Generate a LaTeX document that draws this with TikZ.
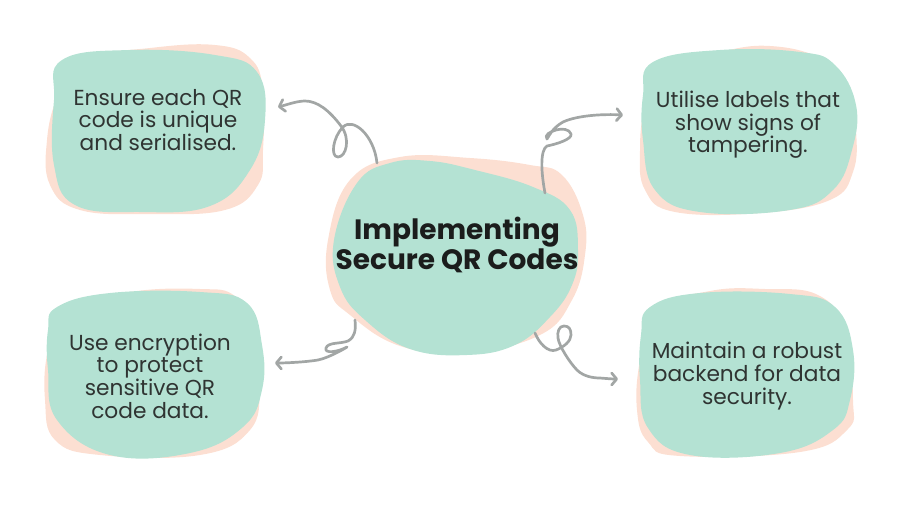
\documentclass[tikz,border=0pt]{standalone}
\usepackage{fontspec}
\setmainfont{Poppins}
\usetikzlibrary{arrows.meta}
\definecolor{mint}{HTML}{B4E2D3}
\definecolor{peach}{HTML}{FCDFD2}
\definecolor{curl}{HTML}{A2A6A5}
\definecolor{ink}{HTML}{2F3432}
\definecolor{titleink}{HTML}{1B1D1C}
\begin{document}
\begin{tikzpicture}[x=1pt,y=-1pt,
  blobg/.style={fill=mint},
  blobp/.style={fill=peach},
  curlline/.style={draw=curl, line width=2.7pt, line cap=round, line join=round,
    -{Straight Barb[length=5pt,width=12pt,round]}},
  txt/.style={align=center, inner sep=0pt, text=ink, font=\fontsize{21.7}{22.6}\selectfont},
  ttl/.style={align=center, inner sep=0pt, text=titleink, font=\bfseries\fontsize{28}{25}\selectfont}]
\path[use as bounding box] (0,0) rectangle (900,506);
% top-left blob
\fill[blobp] plot[smooth cycle, tension=0.7] coordinates {(80,60) (150,48) (215,45) (250,58) (263,90) (263,150) (258,185) (225,210) (150,214) (80,210) (50,185) (47,140) (58,95)};
\fill[blobg] plot[smooth cycle, tension=0.7] coordinates {(62,60) (130,50) (215,55) (257,72) (265,120) (250,170) (210,206) (140,212) (75,205) (54,165) (54,100)};
% top-right blob
\fill[blobp] plot[smooth cycle, tension=0.7] coordinates {(660,70) (720,52) (770,46) (820,58) (848,85) (856,130) (853,172) (830,200) (760,213) (675,212) (645,190) (640,150) (645,105)};
\fill[blobg] plot[smooth cycle, tension=0.7] coordinates {(653,62) (720,50) (800,52) (835,65) (856,105) (852,150) (833,190) (790,210) (700,212) (655,190) (643,140) (643,95)};
% bottom-left blob
\fill[blobp] plot[smooth cycle, tension=0.7] coordinates {(65,310) (130,292) (200,289) (235,296) (258,330) (260,385) (250,430) (200,455) (100,455) (55,440) (45,400) (48,350)};
\fill[blobg] plot[smooth cycle, tension=0.7] coordinates {(57,307) (110,293) (200,292) (247,303) (262,345) (262,390) (243,427) (190,453) (110,455) (57,420) (48,370) (48,330)};
% bottom-right blob
\fill[blobp] plot[smooth cycle, tension=0.7] coordinates {(655,310) (710,291) (765,289) (818,295) (845,330) (853,400) (847,430) (800,452) (680,456) (648,442) (637,410) (640,360)};
\fill[blobg] plot[smooth cycle, tension=0.7] coordinates {(650,307) (700,293) (790,294) (835,307) (853,350) (850,400) (833,430) (780,453) (690,455) (648,428) (640,380) (641,335)};
% centre blob
\fill[blobp] plot[smooth cycle, tension=0.7] coordinates {(350,180) (400,157) (470,158) (530,165) (562,175) (583,215) (585,255) (572,300) (540,335) (467,353) (400,346) (350,315) (330,290) (328,240)};
\fill[blobg] plot[smooth cycle, tension=0.7] coordinates {(357,183) (390,163) (430,161) (475,170) (533,187) (570,210) (578,250) (572,285) (550,317) (515,345) (467,355) (410,349) (365,320) (340,287) (334,240)};
% texts
\node[ttl] (center) at (457,245) {Implementing\\Secure QR Codes};
\node[txt] (tl) at (158,120) {Ensure each QR\\code is unique\\and serialised.};
\node[txt] (tr) at (748,125) {Utilise labels that\\show signs of\\tampering.};
\node[txt] (bl) at (150,376) {Use encryption\\to protect\\sensitive QR\\code data.};
\node[txt] (br) at (747,376) {Maintain a robust\\backend for data\\security.};
% connector ends
\coordinate (c1s) at (377,163); \coordinate (c1e) at (278,107);
\coordinate (c2s) at (545,193); \coordinate (c2e) at (623,115);
\coordinate (c3s) at (355,320); \coordinate (c3e) at (275,363);
\coordinate (c4s) at (535,333); \coordinate (c4e) at (618,379);
\draw[curlline] (c1s) .. controls (374,135) and (353,117) .. (343,127)
  .. controls (333,137) and (330,157) .. (338,157)
  .. controls (346,157) and (351,139) .. (341,126)
  .. controls (329,110) and (317,101) .. (305,101)
  .. controls (297,101) and (286,105) .. (c1e);
\draw[curlline] (c2s) .. controls (541,172) and (540,150) .. (547,146)
  .. controls (557,144) and (572.5,139) .. (571,134)
  .. controls (569.5,129) and (562,128.2) .. (556,130)
  .. controls (550,131.8) and (544,135) .. (547,139)
  .. controls (548,138) and (552,128) .. (563,122)
  .. controls (578,115) and (605,114) .. (c2e);
\draw[curlline] (c3s) .. controls (356,330) and (355,337) .. (348,341)
  .. controls (340,344) and (328,342) .. (326,348)
  .. controls (324,354) and (338,352) .. (347,347)
  .. controls (349,346) and (330,357.6) .. (318,360)
  .. controls (306,362) and (287,363) .. (c3e);
\draw[curlline] (c4s) .. controls (539,343) and (548,353) .. (556,350)
  .. controls (564,347) and (571,341) .. (571,335)
  .. controls (571,329) and (569,326) .. (564,326)
  .. controls (559,326) and (557,332) .. (558,338)
  .. controls (559,346) and (570,363) .. (577,370)
  .. controls (583,376) and (592,378) .. (600,378)
  .. controls (606,378.5) and (612,379) .. (c4e);
\end{tikzpicture}
\end{document}
